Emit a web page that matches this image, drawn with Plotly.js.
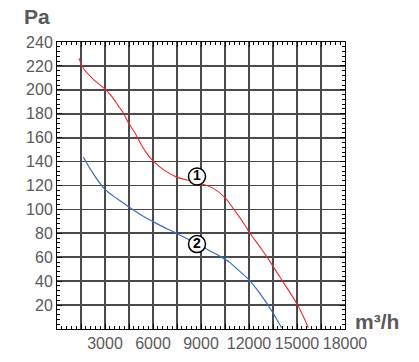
<!DOCTYPE html>
<html><head><meta charset="utf-8">
<script src="https://cdn.plot.ly/plotly-3.0.1.min.js"></script>
<style>body{margin:0;background:#fff}#c{width:419px;height:362px}</style>
</head><body><div id="c"></div>
<script>
const redX = [1375, 1646, 2270, 3000, 3420, 3830, 4145, 4460, 4875, 5080, 5500, 6020, 6645, 7480, 8310, 8940, 9770, 10500, 11020, 11645, 12170, 12690, 13150, 14145, 15040, 15710];
const redY = [226.4, 218, 208.8, 200.6, 194.6, 186.6, 180.6, 172.6, 163.9, 158.8, 149, 140.3, 133.3, 127, 124, 121.7, 117.6, 109.8, 100.6, 88.9, 78, 68.5, 59.7, 39, 20, 1];
const blueX = [1646, 2165, 3000, 3830, 4665, 5500, 6330, 7375, 8415, 9560, 10190, 10800, 11230, 12060, 12690, 13415, 14040];
const blueY = [143.9, 132, 116.7, 108.3, 100.6, 93.4, 87.5, 80.6, 73.6, 65.3, 60.8, 55.7, 50.5, 40.3, 29.6, 15.3, 1];
const labelX = [8750, 8750];
const labelY = [127.5, 71];
const labelText = ['1', '2'];
const xTickVals = [0,1500,3000,4500,6000,7500,9000,10500,12000,13500,15000,16500,18000];
const xTickText = ['','','3000','','6000','','9000','','12000','','15000','','18000'];
const yTickVals = [0,20,40,60,80,100,120,140,160,180,200,220,240];
const yTickText = ['','20','40','60','80','100','120','140','160','180','200','220','240'];

const traces = [
  {x: redX, y: redY, mode: 'lines', line: {color: '#f02828', width: 1.1, shape: 'spline', smoothing: 1}, hoverinfo: 'skip'},
  {x: blueX, y: blueY, mode: 'lines', line: {color: '#3a6cc0', width: 1.2, shape: 'spline', smoothing: 1}, hoverinfo: 'skip'},
  {x: labelX, y: labelY, mode: 'markers+text', text: labelText, textposition: 'middle center',
   textfont: {family: 'Liberation Sans, Arial', size: 14, color: '#000', weight: 'bold'},
   marker: {size: 17, color: '#fff', line: {color: '#000', width: 1.5}}, hoverinfo: 'skip'}
];
const axisCommon = {
  showline: true, linecolor: '#000', linewidth: 1, mirror: 'ticks',
  ticks: 'inside', ticklen: 5, tickcolor: '#000',
  showgrid: true, gridcolor: '#4a4a4a', gridwidth: 1.8,
  zeroline: false, tickmode: 'array',
  tickfont: {family: 'Liberation Sans, Arial', size: 16, color: '#5a5a5a'}
};
const layout = {
  width: 419, height: 362,
  margin: {l: 57, r: 74, t: 42, b: 33},
  paper_bgcolor: '#fff', plot_bgcolor: '#fff',
  showlegend: false,
  xaxis: Object.assign({}, axisCommon, {range: [0, 18000], tickvals: xTickVals, ticktext: xTickText,
    minor: {ticks: 'inside', dtick: 300, tick0: 0, ticklen: 3, tickcolor: '#000', showgrid: false}}),
  yaxis: Object.assign({}, axisCommon, {range: [0, 240], tickvals: yTickVals, ticktext: yTickText, ticklabelstandoff: 0,
    minor: {ticks: 'inside', dtick: 4, tick0: 0, ticklen: 3, tickcolor: '#000', showgrid: false}}),
  annotations: [
    {text: 'Pa', xref: 'paper', yref: 'paper', x: -0.12, y: 1.0, yshift: 26, xanchor: 'left', yanchor: 'middle', showarrow: false,
     font: {family: 'Liberation Sans, Arial', size: 21, color: '#5a5a5a', weight: 'bold'}},
    {text: 'm³/h', xref: 'paper', yref: 'paper', x: 1.0, xshift: 8, y: 0, yshift: 8, xanchor: 'left', yanchor: 'middle', showarrow: false,
     font: {family: 'Liberation Sans, Arial', size: 21, color: '#5a5a5a', weight: 'bold'}}
  ]
};
Plotly.newPlot('c', traces, layout, {staticPlot: true, displayModeBar: false});
</script></body></html>
